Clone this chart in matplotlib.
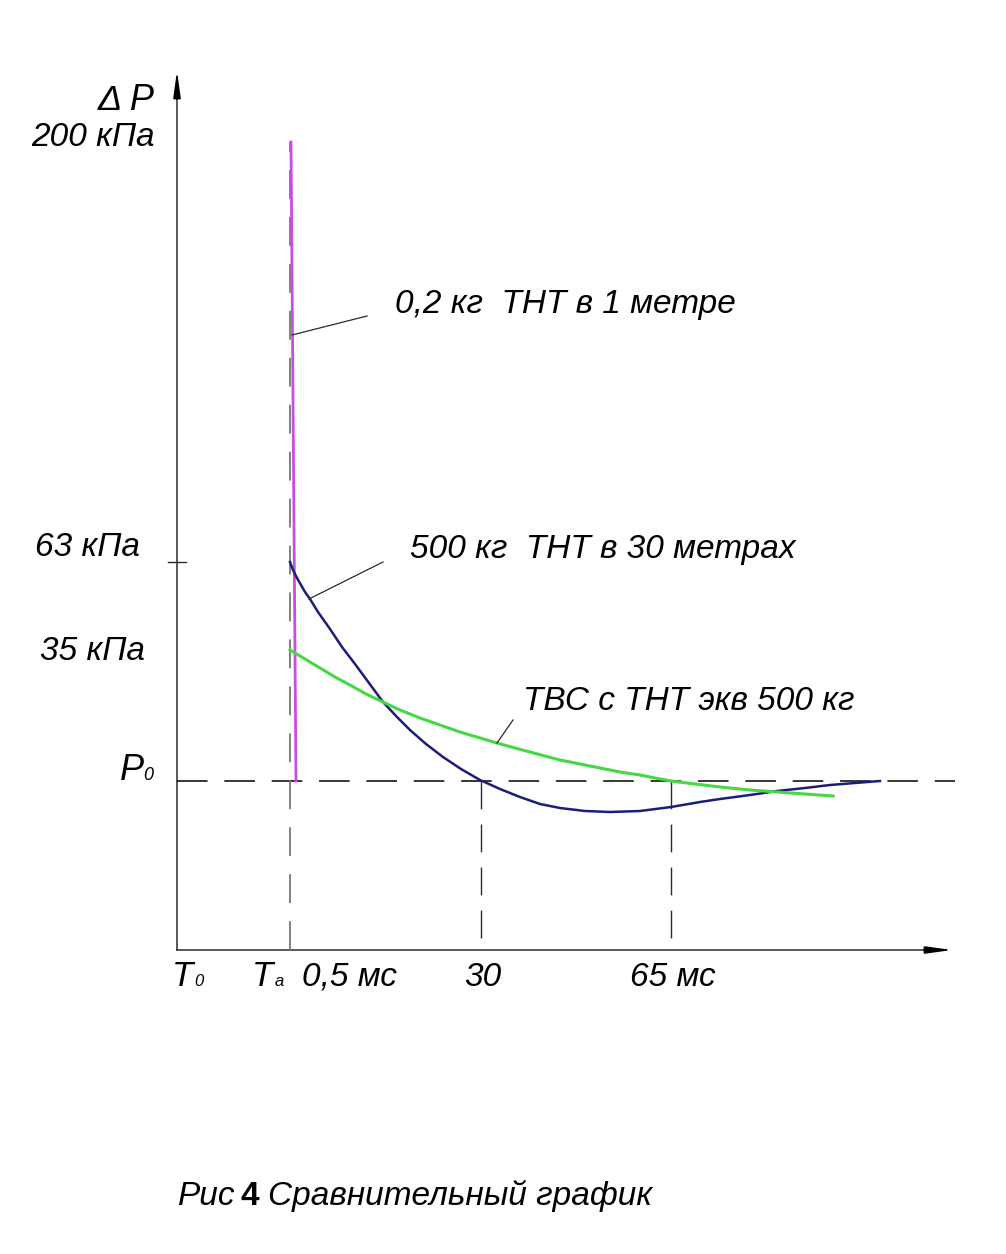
import numpy as np
import matplotlib
matplotlib.use("Agg")
import matplotlib.pyplot as plt

plt.rcParams['font.family'] = ['Liberation Sans', 'DejaVu Sans']
plt.rcParams['font.style'] = 'italic'

# schematic drawing units (px on the sheet, y grows downward)
origin = (177, 950)
x_axis_end = 955
y_axis_end = 68
p0_level = 781
ta_pos = 290
t30_pos = 481
t65_pos = 671
kpa63_level = 562

# 0,2 kg TNT at 1 m (magenta spike)
spike_x = [291, 296]
spike_y = [142, 781]

# 500 kg TNT at 30 m (blue)
blue_x = [290, 293, 297, 301, 305, 310, 318, 330, 342, 355, 369, 383, 397, 410, 426, 443, 461, 480,
          500, 520, 540, 560, 585, 610, 640, 671, 700, 720, 750, 777, 805, 830, 855, 880]
blue_y = [562, 570, 578, 585, 592, 599, 612, 629, 647, 664, 683, 702, 717, 730, 744, 757, 769, 780,
          789, 797, 804, 808, 811, 812, 811, 807, 802, 799, 795, 791, 788, 785, 783, 781]

# fuel-air mixture, TNT eq 500 kg (green)
green_x = [290, 305, 320, 335, 350, 366, 383, 400, 420, 440, 460, 480, 497, 515, 530, 545, 560,
           580, 600, 620, 640, 655, 671, 695, 720, 750, 777, 805, 833]
green_y = [650, 659, 668, 677, 685, 694, 702, 710, 718, 725, 732, 738, 743, 748, 752, 756, 760,
           764, 768, 772, 775, 778, 781, 784, 787, 790, 792, 794, 796]

y_labels = ["200 кПа", "63 кПа", "35 кПа"]
y_label_pos = [(155, 146), (140, 556), (145, 660)]
x_labels = ["0,5 мс", "30", "65 мс"]
x_label_pos = [(302, 986), (464, 986), (630, 986)]

fig = plt.figure(figsize=(10.06, 12.54), dpi=100)
ax = fig.add_axes([0, 0, 1, 1])
ax.set_xlim(0, 1006)
ax.set_ylim(1254, 0)
ax.axis('off')

ink = '#2b2b2b'
fs = 24

# axes with arrows
ax.plot([origin[0], origin[0]], [origin[1], y_axis_end + 20], color=ink, lw=1.1)
ax.plot([origin[0], x_axis_end - 20], [origin[1], origin[1]], color=ink, lw=1.1)
ax.annotate('', xy=(origin[0], y_axis_end), xytext=(origin[0], y_axis_end + 34),
            arrowprops=dict(arrowstyle='-|>,head_length=1.6,head_width=0.22', color='black', lw=1.1))
ax.annotate('', xy=(x_axis_end, origin[1]), xytext=(x_axis_end - 34, origin[1]),
            arrowprops=dict(arrowstyle='-|>,head_length=1.6,head_width=0.22', color='black', lw=1.1))

# guide lines
ax.plot([origin[0], x_axis_end], [p0_level, p0_level], color='black', lw=1.1, dashes=(20, 11))
ax.plot([ta_pos, ta_pos], [origin[1], spike_y[0]], color='#777777', lw=1.3, dashes=(16, 10))
for xp in (t30_pos, t65_pos):
    ax.plot([xp, xp], [p0_level, origin[1]], color=ink, lw=1.0, dashes=(20, 11))
ax.plot([168, 186], [kpa63_level, kpa63_level], color=ink, lw=1.0)

# curves
ax.plot(spike_x, spike_y, color='#c84ee0', lw=2.0)
ax.plot(blue_x, blue_y, color='#1c1c7a', lw=1.8)
ax.plot(green_x, green_y, color='#45d845', lw=2.2)

# leader lines
ax.plot([292, 367], [335, 316], color=ink, lw=0.9)
ax.plot([309, 383], [599, 562], color=ink, lw=0.9)
ax.plot([497, 513], [743, 720], color=ink, lw=0.9)

ax.text(395, 313, "0,2 кг  ТНТ в 1 метре", fontsize=fs, ha='left', va='baseline')
ax.text(410, 558, "500 кг  ТНТ в 30 метрах", fontsize=fs, ha='left', va='baseline')
ax.text(523, 710, "ТВС с ТНТ экв 500 кг", fontsize=fs, ha='left', va='baseline')

ax.text(155, 110, "Δ P", fontsize=fs + 2, ha='right', va='baseline')
for lab, (xp, yp) in zip(y_labels, y_label_pos):
    ax.text(xp, yp, lab, fontsize=fs, ha='right', va='baseline')
ax.text(120, 780, "P", fontsize=fs + 2, ha='left', va='baseline')
ax.text(143, 780, "0", fontsize=13, ha='left', va='baseline')

ax.text(172, 986, "T", fontsize=fs + 1, ha='left', va='baseline')
ax.text(194, 986, "0", fontsize=12, ha='left', va='baseline')
ax.text(252, 986, "T", fontsize=fs + 1, ha='left', va='baseline')
ax.text(275, 986, "a", fontsize=12, ha='left', va='baseline')
for lab, (xp, yp) in zip(x_labels, x_label_pos):
    ax.text(xp, yp, lab, fontsize=fs, ha='left', va='baseline')

ax.text(178, 1205, "Рис", fontsize=fs, ha='left', va='baseline')
ax.text(241, 1205, "4", fontsize=fs, ha='left', va='baseline', fontweight='bold', fontstyle='normal')
ax.text(268, 1205, "Сравнительный график", fontsize=fs, ha='left', va='baseline')

fig.savefig("out.png", dpi=100, facecolor='white')
